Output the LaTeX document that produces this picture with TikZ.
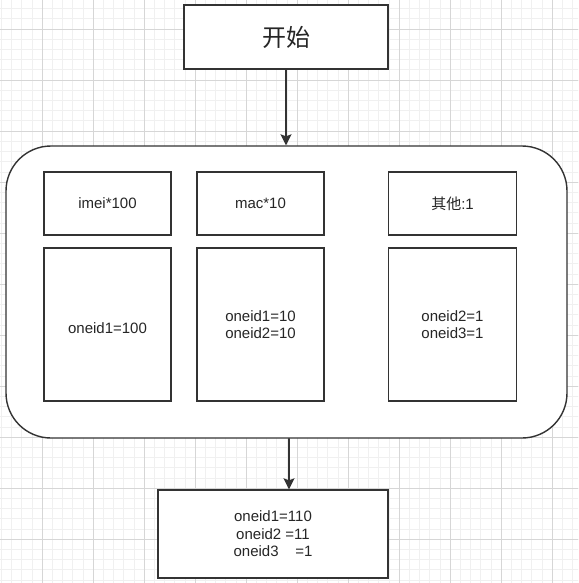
\documentclass[tikz,border=0pt]{standalone}
\usepackage{fontspec}
\setmainfont{Liberation Sans}
\newfontfamily\cjk{Noto Sans CJK SC}
\usetikzlibrary{arrows.meta}

\begin{document}
\begin{tikzpicture}[x=1pt,y=-1pt,>={Stealth[length=11pt,width=11pt,inset=2pt]},line cap=round,
 minor grid/.style={draw=black!6,line width=0.6pt},
 major grid/.style={draw=black!16,line width=0.8pt},
 box/.style={draw=boxcolor,line width=1.4pt,fill=white,text=textcolor,align=center,inner sep=0pt,font=\fontsize{15}{17.5}\selectfont},
 small box/.style={box,minimum width=127pt,minimum height=63pt},
 tall box/.style={box,minimum width=127pt,minimum height=153pt},
 flow line/.style={draw=boxcolor,line width=1.4pt,->}]
 \colorlet{boxcolor}{black!80}
 \colorlet{textcolor}{black!85}

 \fill[white] (0,0) rectangle (578,583);
 \useasboundingbox (0,0) rectangle (578,583);

 % background grid
 \foreach \k in {0,...,57}
    \draw[minor grid] (1.2+10.2*\k,0) -- (1.2+10.2*\k,583);
 \foreach \k in {0,...,57}
    \draw[minor grid] (0,-1.6+10.2*\k) -- (578,-1.6+10.2*\k);
 \foreach \k in {0,...,10}
    \draw[major grid] (42+51*\k,0) -- (42+51*\k,583);
 \foreach \k in {0,...,10}
    \draw[major grid] (0,29+51*\k) -- (578,29+51*\k);

 \node[box,minimum width=204pt,minimum height=64pt,font=\cjk\fontsize{24}{28}\selectfont] (start) at (286,37) {开始};

 \node[box,rounded corners=45pt,minimum width=561pt,minimum height=292pt] (group) at (286.5,292) {};
 \node[small box] (imei) at (107.5,203.5) {imei*100};
 \node[small box] (mac) at (260.5,203.5) {mac*10};
 \node[small box,minimum width=128pt] (other) at (452.5,203.5) {{\cjk 其他}:1};
 \node[tall box] (imei count) at (107.5,324.5) {\mbox{}\\oneid1=100};
 \node[tall box] (mac count) at (260.5,324.5) {oneid1=10\\oneid2=10};
 \node[tall box,minimum width=128pt] (other count) at (452.5,324.5) {oneid2=1\\oneid3=1};

 \node[box,minimum width=230pt,minimum height=88pt] (result) at (273,534) {oneid1=110\\oneid2 =11\\oneid3\ \ \ \ =1};

 \draw[flow line] (start.south) -- (start.south |- group.north);
 \draw[flow line] ([xshift=2.5pt]group.south) -- ([xshift=2.5pt]group.south |- result.north);
\end{tikzpicture}
\end{document}
